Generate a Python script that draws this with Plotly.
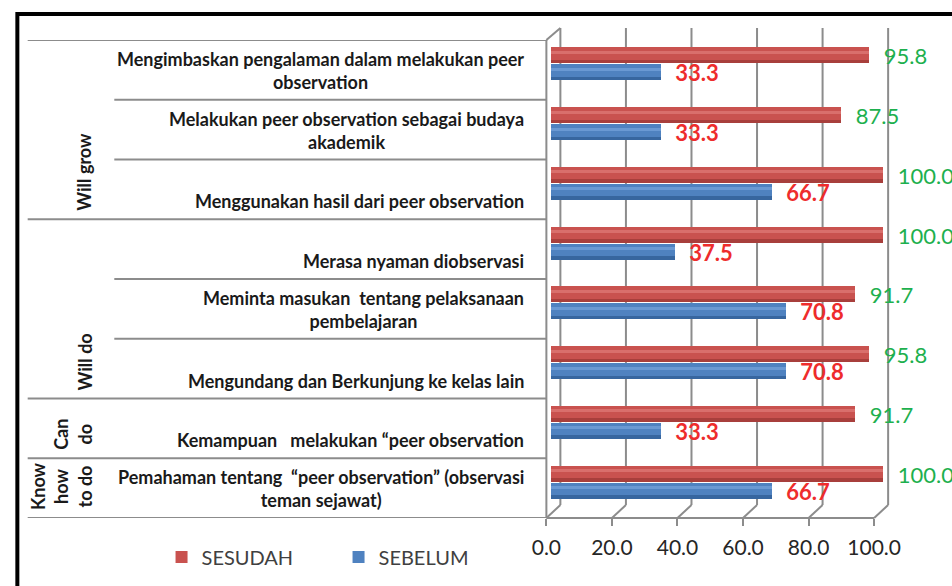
import plotly.graph_objects as go

# ---------------- data ----------------
categories = [
    "Pemahaman tentang\u00a0 \u201cpeer observation\u201d (observasi<br>teman sejawat)",
    "Kemampuan \u00a0 melakukan \u201cpeer observation",
    "Mengundang dan Berkunjung ke kelas lain",
    "Meminta masukan\u00a0 tentang pelaksanaan<br>pembelajaran",
    "Merasa nyaman diobservasi",
    "Menggunakan hasil dari peer observation",
    "Melakukan peer observation sebagai budaya<br>akademik",
    "Mengimbaskan pengalaman dalam melakukan peer<br>observation",
]
groups = ["Know<br>how<br>to do", "Can<br>do", "Will do", "Will grow"]
group_sizes = [1, 1, 3, 3]
sebelum = [66.7, 33.3, 70.8, 70.8, 37.5, 66.7, 33.3, 33.3]
sesudah = [100.0, 91.7, 95.8, 91.7, 100.0, 100.0, 87.5, 95.8]
x_ticks = [0, 20, 40, 60, 80, 100]

# ---------------- layout helpers ----------------
W, H = 952, 586
P0, P1 = 540, 900            # plot area in px
TOP, BOT = 40, 518           # category area in px
FONT = "Lato"
GRID = "#8C8C8C"


def rng(px0, px100):
    s = (px100 - px0) / 100.0
    return [(P0 - px0) / s, (P1 - px0) / s]


yd0, yd1 = 1 - BOT / H, 1 - TOP / H
DX, DY = 14, 12              # 3-D depth offset in px

fig = go.Figure()

bw = 0.268
series = [
    ("SESUDAH", sesudah, 0.109, "#C9524F", "#A83F3C", "#D96F6C", "#1DB04E", "normal"),
    ("SEBELUM", sebelum, -0.176, "#4F82C0", "#37669F", "#6A99D3", "#EE2C2C", "bold"),
]
for name, vals, off, mid, dark, light, tcol, tw in series:
    fig.add_trace(go.Bar(
        y=categories, x=vals, orientation="h", name=name,
        offset=off, width=bw, marker=dict(color=mid, line=dict(width=0)),
        text=vals, texttemplate="\u00a0\u00a0%{x:.1f}", textposition="outside",
        textfont=dict(family=FONT, size=22, color=tcol, weight=tw),
        constraintext="none", cliponaxis=False, hoverinfo="x+name",
    ))
    fig.add_trace(go.Bar(
        y=categories, x=vals, orientation="h", showlegend=False,
        offset=off, width=bw * 0.22, marker=dict(color=dark, line=dict(width=0)),
        hoverinfo="skip",
    ))
    fig.add_trace(go.Bar(
        y=categories, x=vals, orientation="h", showlegend=False,
        offset=off + bw * 0.6, width=bw * 0.18, marker=dict(color=light, line=dict(width=0)),
        hoverinfo="skip",
    ))

shapes = []
# outer border
shapes.append(dict(type="rect", xref="paper", yref="paper",
                   x0=9.5 / W, x1=1.05, y0=-0.05, y1=1 - 14 / H,
                   line=dict(color="black", width=4)))
# category separators
boundaries = {}
idx = 0
boundaries[-0.5] = 20
for gs in group_sizes:
    for k in range(1, gs):
        boundaries[idx + k - 0.5] = 108
    idx += gs
    boundaries[idx - 0.5] = 20
for yb, xs in boundaries.items():
    shapes.append(dict(type="line", xref="paper", yref="y",
                       x0=xs / W, x1=(P0 + 7) / W, y0=yb, y1=yb,
                       line=dict(color=GRID, width=2)))
# left wall front edge
shapes.append(dict(type="line", xref="x2", yref="paper", x0=0, x1=0, y0=yd0, y1=yd1,
                   line=dict(color=GRID, width=2)))
# floor front edge
shapes.append(dict(type="line", xref="x2", yref="paper", x0=x_ticks[0], x1=x_ticks[-1],
                   y0=yd0, y1=yd0, line=dict(color=GRID, width=2)))
# top-left depth edge
shapes.append(dict(type="line", xref="x2", yref="paper", xsizemode="pixel", ysizemode="pixel",
                   xanchor=0, yanchor=yd1, x0=0, x1=DX, y0=0, y1=DY,
                   line=dict(color=GRID, width=2)))
for v in x_ticks:
    # floor depth lines
    shapes.append(dict(type="line", xref="x2", yref="paper", xsizemode="pixel", ysizemode="pixel",
                       xanchor=v, yanchor=yd0, x0=0, x1=DX, y0=0, y1=DY + 1,
                       line=dict(color=GRID, width=2)))
    # back wall gridlines
    shapes.append(dict(type="line", xref="x2", yref="paper", xsizemode="pixel",
                       xanchor=v, x0=DX, x1=DX, y0=yd0 + (DY + 1) / H, y1=yd1 + DY / H,
                       line=dict(color=GRID, width=2), layer="below"))

annotations = []
for i, c in enumerate(categories):
    annotations.append(dict(
        text=c, xref="paper", yref="y", x=526 / W, y=i - 0.5, xanchor="right", yanchor="bottom",
        yshift=5, align="center", showarrow=False,
        font=dict(family=FONT, size=18, color="#1A1A1A", weight="bold")))
idx = 0
for g, gs in zip(groups, group_sizes):
    annotations.append(dict(
        text=g, xref="paper", yref="y", x=91 / W, y=idx - 0.5, xanchor="right", yanchor="bottom",
        yshift=6, align="center", textangle=-90, showarrow=False,
        font=dict(family=FONT, size=18, color="#1A1A1A", weight="bold")))
    idx += gs

fig.update_layout(
    width=W, height=H, margin=dict(l=0, r=0, t=0, b=0),
    paper_bgcolor="white", plot_bgcolor="rgba(0,0,0,0)",
    barmode="overlay", bargap=0,
    xaxis=dict(domain=[P0 / W, P1 / W], range=rng(552, 889), showgrid=False, zeroline=False,
               showticklabels=False, ticks="", showline=False, fixedrange=True),
    xaxis2=dict(overlaying="x", anchor="y", side="bottom", range=rng(547, 880),
                tickvals=x_ticks, tickformat=".1f", ticks="outside", ticklen=7, tickwidth=2,
                tickcolor=GRID, showgrid=False, zeroline=False, showline=False,
                ticklabelstandoff=4,
                tickfont=dict(family=FONT, size=21, color="#262626")),
    yaxis=dict(domain=[yd0, yd1], range=[-0.5, 7.5], type="category",
               categoryorder="array", categoryarray=categories,
               showticklabels=False, showgrid=False, zeroline=False, ticks="", showline=False),
    legend=dict(orientation="h", x=156 / W, xanchor="left", y=1 - 557 / H, yanchor="middle",
                font=dict(family=FONT, size=20, color="#404040"),
                entrywidth=132, entrywidthmode="pixels", bgcolor="rgba(0,0,0,0)",
                traceorder="normal"),
    shapes=shapes, annotations=annotations, showlegend=True,
)

fig.write_html("out.html", config={"displayModeBar": False},
               post_script="document.body.style.margin='0px';")
